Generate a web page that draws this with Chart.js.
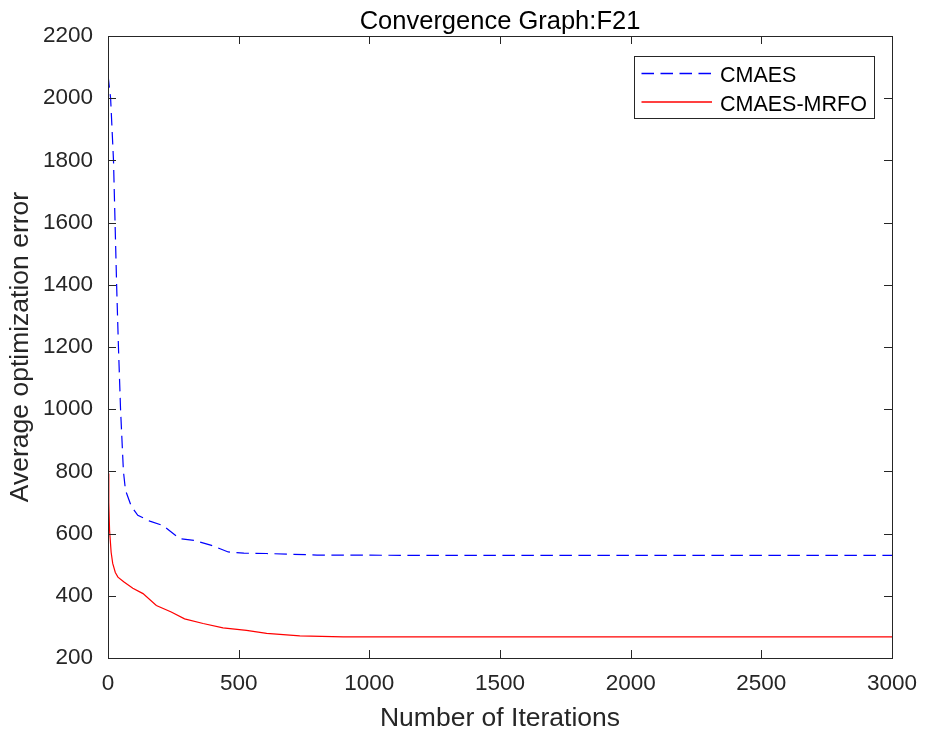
<!DOCTYPE html>
<html>
<head>
<meta charset="utf-8">
<style>
  html, body { margin: 0; padding: 0; background: #fff; }
  #wrap { width: 925px; height: 736px; }
</style>
<script src="https://cdn.jsdelivr.net/npm/chart.js@4/dist/chart.umd.min.js"></script>
</head>
<body>
<div id="wrap"><canvas id="myChart" width="925" height="736"></canvas></div>
<script>
// values
const cmaesIter = [0, 10, 21, 27, 33, 40, 48, 59, 67, 89, 114, 160, 210, 274, 330, 396, 460, 520, 607, 800, 1200, 2000, 3000];
const cmaesErr = [2074, 2000, 1800, 1600, 1400, 1200, 1000, 800, 739, 688, 659, 640, 626, 584, 578, 562, 541, 537, 536, 531, 530, 530, 530];

const mrfoIter = [0, 3, 6, 12, 18, 28, 38, 60, 95, 134, 185, 242, 293, 364, 440, 530, 607, 734, 900, 1500, 3000];
const mrfoErr = [793, 700, 611, 540, 504, 475, 460, 445, 424, 407, 369, 348, 326, 311, 297, 289, 279, 271, 268, 268, 268];

const xTicks = [0, 500, 1000, 1500, 2000, 2500, 3000];
const yTicks = [200, 400, 600, 800, 1000, 1200, 1400, 1600, 1800, 2000, 2200];

const titleText = "Convergence Graph:F21";
const xLabel = "Number of Iterations";
const yLabel = "Average optimization error";

const FONT = "'Liberation Sans', Arial, Helvetica, sans-serif";
const INK = "#262626";

const toPoints = (xs, ys) => xs.map((x, i) => ({ x: x, y: ys[i] }));

// box, inward ticks, title and legend like a matlab figure
const matlabFrame = {
  id: "matlabFrame",
  afterDraw(chart) {
    const ctx = chart.ctx;
    const a = chart.chartArea;
    const xs = chart.scales.x;
    const ys = chart.scales.y;
    const tl = 8;

    ctx.save();
    ctx.strokeStyle = INK;
    ctx.lineWidth = 1;
    ctx.strokeRect(a.left + 0.5, a.top + 0.5, a.right - a.left, a.bottom - a.top);

    ctx.beginPath();
    xTicks.forEach(v => {
      const px = Math.round(xs.getPixelForValue(v)) + 0.5;
      ctx.moveTo(px, a.bottom);
      ctx.lineTo(px, a.bottom - tl);
      ctx.moveTo(px, a.top);
      ctx.lineTo(px, a.top + tl);
    });
    yTicks.forEach(v => {
      const py = Math.round(ys.getPixelForValue(v)) + 0.5;
      ctx.moveTo(a.left, py);
      ctx.lineTo(a.left + tl, py);
      ctx.moveTo(a.right, py);
      ctx.lineTo(a.right - tl, py);
    });
    ctx.stroke();

    // title
    ctx.fillStyle = "#000";
    ctx.font = "25.5px " + FONT;
    ctx.textAlign = "center";
    ctx.textBaseline = "alphabetic";
    ctx.fillText(titleText, (a.left + a.right) / 2, 29);

    // legend
    const lx = 634, ly = 56, lw = 240, lh = 62;
    ctx.fillStyle = "#fff";
    ctx.fillRect(lx, ly, lw, lh);
    ctx.strokeStyle = INK;
    ctx.strokeRect(lx + 0.5, ly + 0.5, lw, lh);
    ctx.font = "21.5px " + FONT;
    ctx.textAlign = "left";
    chart.data.datasets.forEach((ds, i) => {
      const yy = ly + 17.5 + i * 28.5;
      ctx.strokeStyle = ds.borderColor;
      ctx.lineWidth = 1.5;
      ctx.setLineDash(ds.borderDash || []);
      ctx.beginPath();
      ctx.moveTo(lx + 7.5, yy);
      ctx.lineTo(lx + 78, yy);
      ctx.stroke();
      ctx.setLineDash([]);
      ctx.fillStyle = "#000";
      ctx.fillText(ds.label, lx + 86, yy + 8.5);
    });
    ctx.restore();
  }
};

new Chart(document.getElementById("myChart").getContext("2d"), {
  type: "line",
  data: {
    datasets: [
      {
        label: "CMAES",
        data: toPoints(cmaesIter, cmaesErr),
        borderColor: "#0000ff",
        borderWidth: 1.2,
        borderDash: [12.5, 6.5],
        pointRadius: 0,
        tension: 0,
        fill: false
      },
      {
        label: "CMAES-MRFO",
        data: toPoints(mrfoIter, mrfoErr),
        borderColor: "#ff0000",
        borderWidth: 1.2,
        pointRadius: 0,
        tension: 0,
        fill: false
      }
    ]
  },
  options: {
    responsive: false,
    animation: false,
    layout: { padding: { top: 36, right: 33, left: 0, bottom: 0 } },
    plugins: {
      legend: { display: false },
      title: { display: false },
      tooltip: { enabled: false }
    },
    scales: {
      x: {
        type: "linear",
        min: 0,
        max: 3000,
        afterBuildTicks: s => { s.ticks = xTicks.map(v => ({ value: v })); },
        afterFit: s => { s.height = 78; s.paddingLeft = 0; s.paddingRight = 0; },
        grid: { display: false, drawTicks: false },
        border: { display: false },
        ticks: {
          color: INK,
          font: { size: 22.5, family: FONT },
          padding: 12,
          maxRotation: 0,
          callback: v => String(v)
        },
        title: {
          display: true,
          text: xLabel,
          color: INK,
          font: { size: 26.5, family: FONT },
          padding: { top: 0, bottom: 1 }
        }
      },
      y: {
        type: "linear",
        min: 200,
        max: 2200,
        afterBuildTicks: s => { s.ticks = yTicks.map(v => ({ value: v })); },
        afterFit: s => { s.width = 108; s.paddingTop = 0; s.paddingBottom = 0; },
        grid: { display: false, drawTicks: false },
        border: { display: false },
        ticks: {
          color: INK,
          font: { size: 22.5, family: FONT },
          padding: 15,
          callback: v => String(v)
        },
        title: {
          display: true,
          text: yLabel,
          color: INK,
          font: { size: 26.5, family: FONT },
          padding: { top: 5, bottom: 0 }
        }
      }
    }
  },
  plugins: [matlabFrame]
});
</script>
</body>
</html>
